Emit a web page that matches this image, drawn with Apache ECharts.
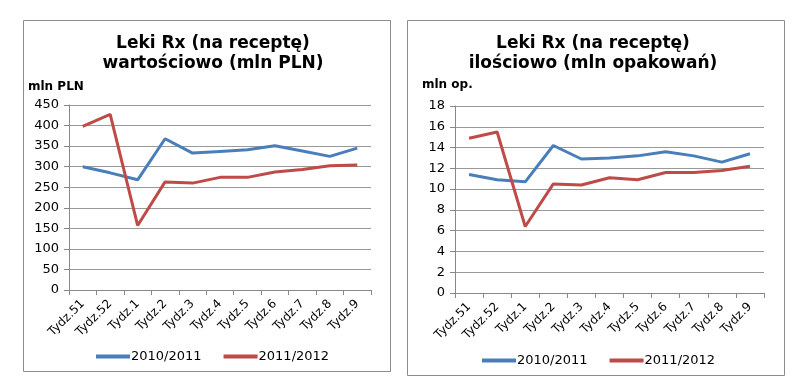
<!DOCTYPE html>
<html><head><meta charset="utf-8">
<script src="https://cdn.jsdelivr.net/npm/echarts@6/dist/echarts.min.js"></script>
<style>html,body{margin:0;padding:0;background:#fff}#c{width:800px;height:390px}</style>
</head><body><div id="c"></div>
<script>
const categories = ['Tydz.51','Tydz.52','Tydz.1','Tydz.2','Tydz.3','Tydz.4','Tydz.5','Tydz.6','Tydz.7','Tydz.8','Tydz.9'];
const seriesNames = ['2010/2011','2011/2012'];
const valueBlue = [300, 285, 268, 368, 333, 337, 341, 351, 338, 325, 345];
const valueRed = [398, 427, 157, 263, 260, 274, 274, 287, 293, 302, 304];
const qtyBlue = [11.4, 10.9, 10.7, 14.2, 12.9, 13.0, 13.2, 13.6, 13.2, 12.6, 13.4];
const qtyRed = [14.9, 15.5, 6.4, 10.5, 10.4, 11.1, 10.9, 11.6, 11.6, 11.8, 12.2];
const titles = ['Leki Rx (na receptę)\nwartościowo (mln PLN)', 'Leki Rx (na receptę)\nilościowo (mln opakowań)'];
const unitLabels = ['mln PLN', 'mln op.'];

const FONT = 'DejaVu Sans';
const BLUE = '#4a7ebb', RED = '#be4b48';
const chart = echarts.init(document.getElementById('c'), null, {renderer:'canvas'});

function xAxis(gi){
  return {type:'category', gridIndex:gi, data:categories, boundaryGap:true,
    axisLine:{lineStyle:{color:'#888', width:1}},
    axisTick:{show:true, alignWithLabel:false, length:5, lineStyle:{color:'#888'}},
    axisLabel:{rotate:45, interval:0, fontFamily:FONT, fontSize:12, color:'#000', margin:12}};
}
function yAxis(gi, max, interval){
  return {type:'value', gridIndex:gi, min:0, max:max, interval:interval,
    axisLine:{show:true, lineStyle:{color:'#888', width:1}},
    axisTick:{show:true, length:5, lineStyle:{color:'#888'}},
    splitLine:{lineStyle:{color:'#999', width:1}},
    axisLabel:{fontFamily:FONT, fontSize:13, color:'#000', margin:10}};
}
function line(name, data, gi, color){
  return {type:'line', name:name, data:data, xAxisIndex:gi, yAxisIndex:gi,
    symbol:'none', lineStyle:{width:3, color:color}, itemStyle:{color:color}, animation:false};
}

chart.setOption({
  animation:false,
  graphic:[
    {type:'rect', shape:{x:23.5, y:20.5, width:367, height:351}, style:{fill:'none', stroke:'#8c8c8c', lineWidth:1}},
    {type:'rect', shape:{x:407.5, y:20.5, width:377, height:355}, style:{fill:'none', stroke:'#8c8c8c', lineWidth:1}},
    {type:'text', left:28, top:81, style:{text:unitLabels[0], font:'bold 12px "DejaVu Sans"', fill:'#000'}},
    {type:'text', left:422, top:79, style:{text:unitLabels[1], font:'bold 12px "DejaVu Sans"', fill:'#000'}}
  ],
  title:[
    {text:titles[0], left:208, top:29, textAlign:'center',
      textStyle:{fontFamily:FONT, fontWeight:'bold', fontSize:17, lineHeight:20, color:'#000'}},
    {text:titles[1], left:588, top:29, textAlign:'center',
      textStyle:{fontFamily:FONT, fontWeight:'bold', fontSize:17, lineHeight:20, color:'#000'}}
  ],
  legend:[
    {data:seriesNames, left:91, top:345, width:300, icon:'rect', itemWidth:34, itemHeight:4, itemGap:22,
      textStyle:{fontFamily:FONT, fontSize:13, color:'#000', padding:[0,0,0,-4]}},
    {data:seriesNames, left:477, top:349, width:300, icon:'rect', itemWidth:34, itemHeight:4, itemGap:22,
      textStyle:{fontFamily:FONT, fontSize:13, color:'#000', padding:[0,0,0,-4]}}
  ],
  grid:[
    {left:69, right:429, top:105, bottom:100},
    {left:455, right:36, top:106, bottom:97}
  ],
  xAxis:[xAxis(0), xAxis(1)],
  yAxis:[yAxis(0, 450, 50), yAxis(1, 18, 2)],
  series:[
    line(seriesNames[0], valueBlue, 0, BLUE),
    line(seriesNames[1], valueRed, 0, RED),
    line(seriesNames[0], qtyBlue, 1, BLUE),
    line(seriesNames[1], qtyRed, 1, RED)
  ]
});
</script></body></html>
